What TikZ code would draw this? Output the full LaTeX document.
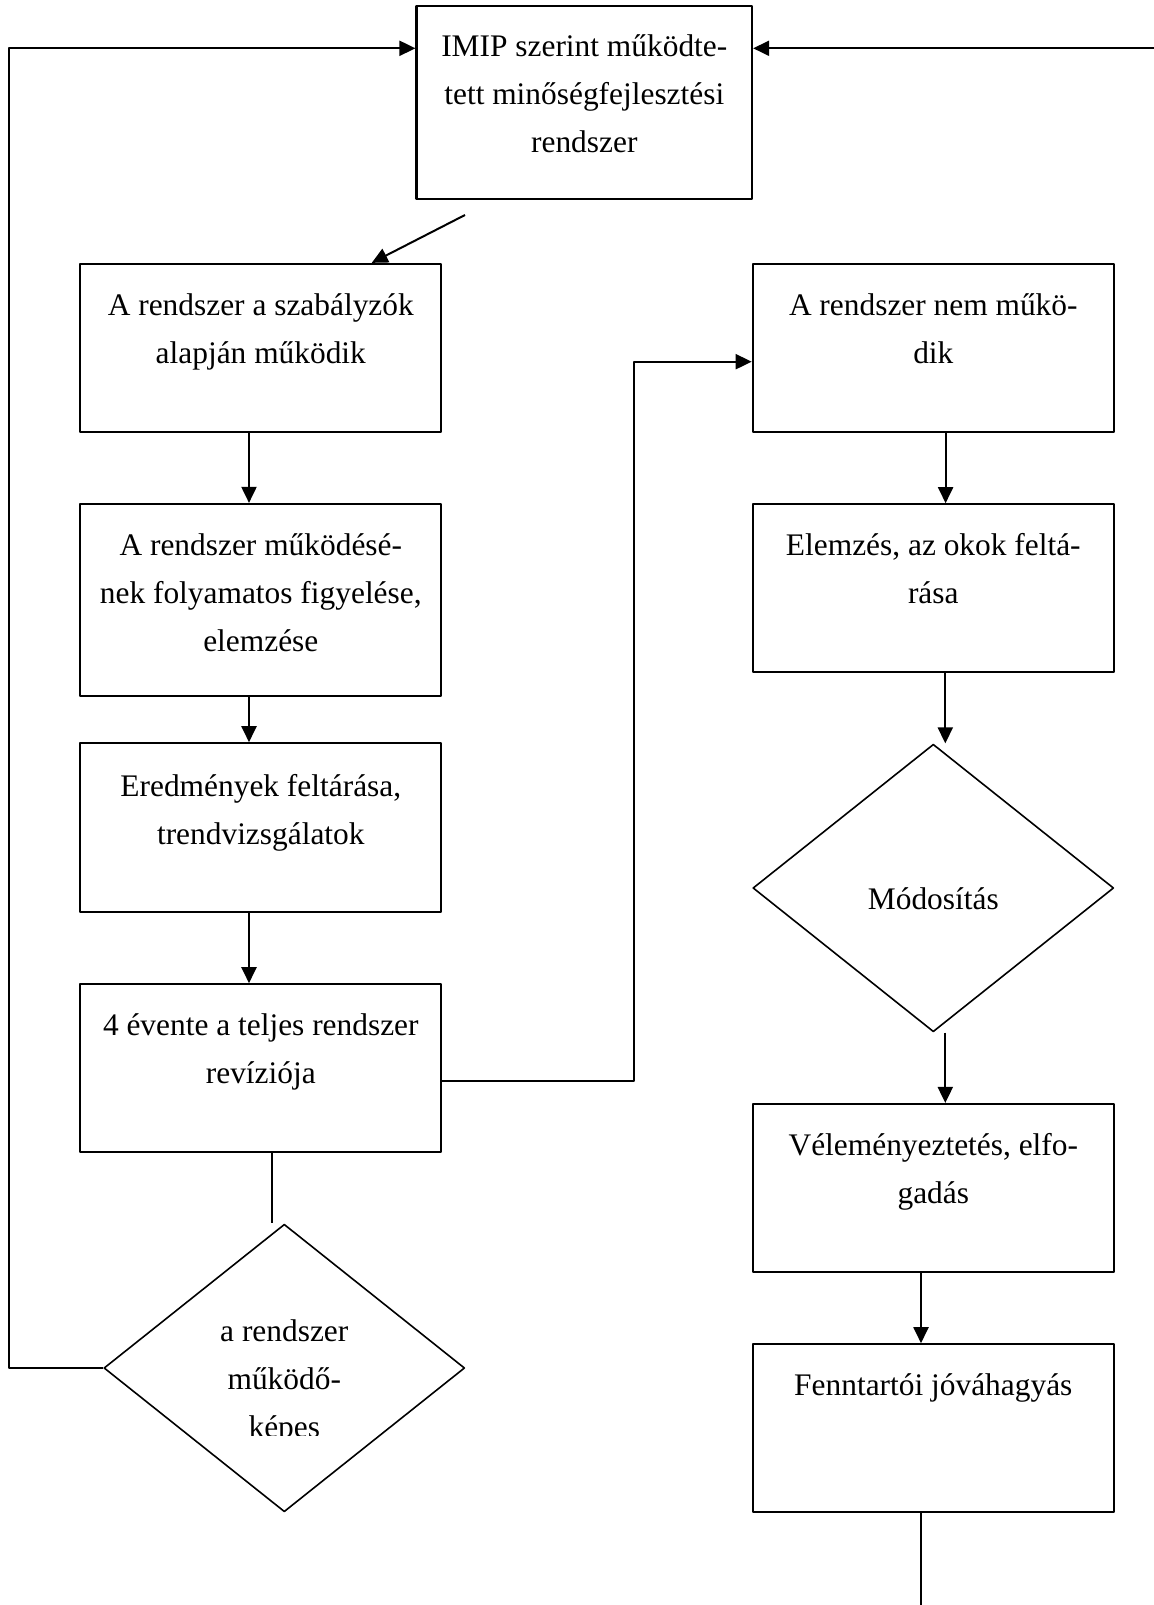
\documentclass[tikz,border=0pt]{standalone}
\usepackage{fontspec}
\setmainfont{Liberation Serif}
\usetikzlibrary{arrows.meta,shapes.geometric}

\begin{document}
\begin{tikzpicture}[x=0.5pt, y=-0.5pt, line join=round, line width=1pt,
	>={Triangle[length=8pt,width=7.5pt]},
	box/.style={draw, line width=1.1pt, minimum width=180.5pt, inner sep=0pt},
	dia/.style={draw, diamond, line width=0.8pt, minimum width=180.4pt, minimum height=143.8pt, inner sep=0pt},
	txt/.style={font=\fontsize{15.7}{24}\selectfont, align=flush center, text width=180pt, inner sep=0pt, anchor=base}]
	\useasboundingbox (0,0) rectangle (1154,1605);
	
	% boxes
	\node[box, minimum width=167.75pt, minimum height=96.5pt] (top) at (584.3,102.2) {};
	\node[box, minimum height=83.85pt] (l1) at (260.8,347.8) {};
	\node[box, minimum height=96pt] (l2) at (260.8,600) {};
	\node[box, minimum height=84.2pt] (l3) at (260.8,827.5) {};
	\node[box, minimum height=84pt] (l4) at (260.8,1068.3) {};
	\node[dia] (chk) at (284.3,1368) {};
	\node[box, minimum height=83.85pt] (r1) at (933.3,347.8) {};
	\node[box, minimum height=84pt] (r2) at (933.3,588.3) {};
	\node[dia] (mod) at (933.3,888) {};
	\node[box, minimum height=83.85pt] (r3) at (933.3,1187.9) {};
	\node[box, minimum height=84pt] (r4) at (933.3,1428.3) {};
	
	% texts
	\node[txt] (toptxt) at (584.3,57) {IMIP szerint működte-\\tett minőségfejlesztési\\rendszer};
	\node[txt] (l1txt) at (260.8,315) {A rendszer a szabályzók\\alapján működik};
	\node[txt] (l2txt) at (260.8,555) {A rendszer működésé-\\nek folyamatos figyelése,\\elemzése};
	\node[txt] (l3txt) at (260.8,796) {Eredmények feltárása,\\trendvizsgálatok};
	\node[txt] (l4txt) at (260.8,1035) {4 évente a teljes rendszer\\revíziója};
	\node[txt] (r1txt) at (933.3,315) {A rendszer nem műkö-\\dik};
	\node[txt] (r2txt) at (933.3,555) {Elemzés, az okok feltá-\\rása};
	\node[txt] (modtxt) at (933.3,909.3) {Módosítás};
	\node[txt] (r3txt) at (933.3,1155) {Véleményeztetés, elfo-\\gadás};
	\node[txt] (r4txt) at (933.3,1395) {Fenntartói jóváhagyás};
	\begin{scope}
		\clip (100,1290) rectangle (470,1435);
		\node[txt] (chktxt) at (284.3,1341.7) {a rendszer\\működő-\\képes};
	\end{scope}
	
	% connectors
	\coordinate (lc) at (9,48.3);
	\coordinate (rc) at (1154,48.3);
	\coordinate (dg) at (465,215);
	\coordinate (jog) at (633.6,361.7);
	\coordinate (bot) at (921,1605);
	
	\draw[->] (chk.west) -| (lc) -- (lc -| top.west);
	\draw[->] (rc) -- (rc -| top.east);
	\draw[->] (dg) -- ([xshift=55.45pt]l1.north);
	\foreach \a/\b/\s in {l1/l2/-5.9pt, l2/l3/-5.9pt, l3/l4/-5.9pt, r1/r2/6.15pt, r2/mod/6pt, mod/r3/6pt, r3/r4/-6.15pt}{
		\draw[->] ([xshift=\s]\a.south) -- ([xshift=\s]\b.north);
	}
	\draw ([xshift=5.75pt]l4.south) -- ([xshift=-6pt]chk.north);
	\draw[->] ([yshift=-6.2pt]l4.east) -| (jog) -- (jog -| r1.west);
	\draw ([xshift=-6.15pt]r4.south) -- (bot);
\end{tikzpicture}
\end{document}
